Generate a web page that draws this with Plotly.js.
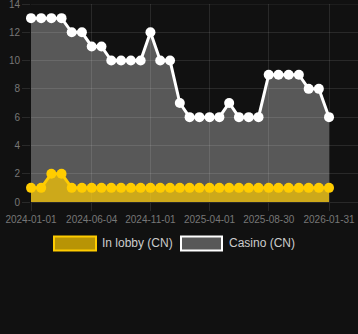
<!DOCTYPE html>
<html>
<head>
<meta charset="utf-8">
<script src="https://cdn.plot.ly/plotly-3.0.1.min.js"></script>
<style>
  html, body { margin: 0; padding: 0; background: #111111; }
  #chart { width: 358px; height: 334px; }
</style>
</head>
<body>
<div id="chart"></div>
<script>
// Dates of the data points
const dates = [
  '2024-01-01','2024-01-27','2024-02-22','2024-03-19','2024-04-14','2024-05-10',
  '2024-06-04','2024-06-29','2024-07-24','2024-08-18','2024-09-12','2024-10-07',
  '2024-11-01','2024-11-26','2024-12-21','2025-01-15','2025-02-09','2025-03-06',
  '2025-04-01','2025-04-26','2025-05-21','2025-06-15','2025-07-10','2025-08-04',
  '2025-08-30','2025-09-24','2025-10-20','2025-11-15','2025-12-10','2026-01-05',
  '2026-01-31'
];
// Series values
const casinoCN = [13,13,13,13,12,12,11,11,10,10,10,10,12,10,10,7,6,6,6,6,7,6,6,6,9,9,9,9,8,8,6];
const lobbyCN  = [1,1,2,2,1,1,1,1,1,1,1,1,1,1,1,1,1,1,1,1,1,1,1,1,1,1,1,1,1,1,1];
// Tick labels
const xTicks = ['2024-01-01','2024-06-04','2024-11-01','2025-04-01','2025-08-30','2026-01-31'];
const yTicks = [0,2,4,6,8,10,12,14];
const seriesNames = ['In lobby (CN)', 'Casino (CN)'];

const gold = 'rgb(255,204,0)';
const goldFill = 'rgba(255,204,0,0.7)';
const white = '#ffffff';
const grayFill = 'rgba(255,255,255,0.3)';
const grid = 'rgba(255,255,255,0.1)';

const traces = [
  {
    x: dates, y: casinoCN, type: 'scatter', mode: 'lines+markers',
    name: seriesNames[1], fill: 'tozeroy', fillcolor: grayFill,
    line: {color: white, width: 3},
    marker: {color: white, size: 10},
    cliponaxis: false, showlegend: false, hoverinfo: 'skip'
  },
  {
    x: dates, y: lobbyCN, type: 'scatter', mode: 'lines+markers',
    name: seriesNames[0], fill: 'tozeroy', fillcolor: goldFill,
    line: {color: gold, width: 3},
    marker: {color: gold, size: 10},
    cliponaxis: false, showlegend: false, hoverinfo: 'skip'
  }
];

// plot area pixel geometry helpers for the hand-drawn legend
const L = 31, R = 358, T = 4, B = 202.5;
const px = v => (v - L) / (R - L);
const py = v => (B - v) / (B - T);

const layout = {
  width: 358, height: 334,
  margin: {l: L, r: 358 - R, t: T, b: 334 - B},
  paper_bgcolor: '#111111',
  plot_bgcolor: '#111111',
  showlegend: false,
  font: {family: 'Liberation Sans, Arial, sans-serif', color: '#777777', size: 10},
  xaxis: {
    type: 'date',
    range: ['2024-01-01', '2026-04-15'],
    tickvals: xTicks,
    tickformat: '%Y-%m-%d',
    showgrid: true, gridcolor: grid, gridwidth: 1,
    ticks: 'outside', ticklen: 8, tickcolor: grid, tickwidth: 1,
    tickfont: {size: 10, color: '#777777'},
    ticklabeloverflow: 'allow',
    zeroline: false, showline: false, fixedrange: true
  },
  yaxis: {
    range: [0, 14],
    tickvals: yTicks,
    showgrid: true, gridcolor: grid, gridwidth: 1,
    ticks: 'outside', ticklen: 8, tickcolor: grid, tickwidth: 1,
    tickfont: {size: 10, color: '#777777'},
    ticklabeloverflow: 'allow',
    zeroline: true, zerolinecolor: grid, zerolinewidth: 1,
    showline: false, fixedrange: true
  },
  shapes: [
    {type: 'rect', xref: 'paper', yref: 'paper', layer: 'above',
     x0: px(54), x1: px(96), y0: py(237), y1: py(251),
     fillcolor: goldFill, line: {color: gold, width: 2}},
    {type: 'rect', xref: 'paper', yref: 'paper', layer: 'above',
     x0: px(181), x1: px(222), y0: py(237), y1: py(251),
     fillcolor: grayFill, line: {color: white, width: 2}},
    // top grid line at y = 14
    {type: 'line', xref: 'paper', yref: 'y', layer: 'below',
     x0: 0, x1: 1, y0: yTicks[yTicks.length - 1], y1: yTicks[yTicks.length - 1],
     line: {color: grid, width: 1}}
  ],
  annotations: [
    {xref: 'paper', yref: 'paper', x: px(99.5), y: py(244), xanchor: 'left', yanchor: 'middle',
     text: seriesNames[0], showarrow: false, font: {size: 12, color: '#cccccc'}},
    {xref: 'paper', yref: 'paper', x: px(226.5), y: py(244), xanchor: 'left', yanchor: 'middle',
     text: seriesNames[1], showarrow: false, font: {size: 12, color: '#cccccc'}}
  ]
};

Plotly.newPlot('chart', traces, layout, {displayModeBar: false, staticPlot: true});
</script>
</body>
</html>
